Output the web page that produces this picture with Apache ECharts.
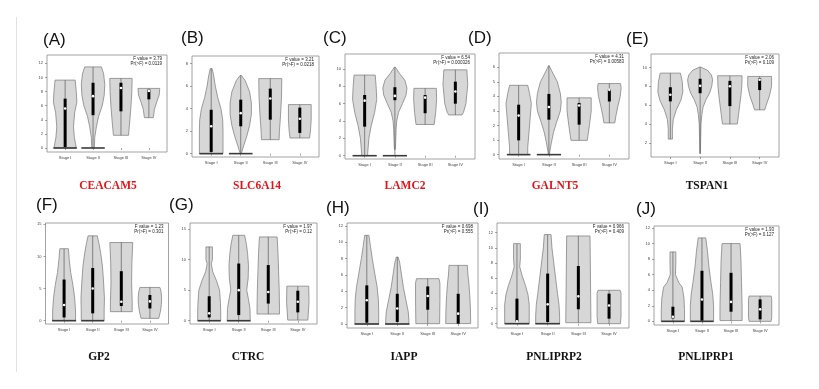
<!DOCTYPE html>
<html>
<head>
<meta charset="utf-8">
<script src="https://cdn.jsdelivr.net/npm/echarts@6/dist/echarts.min.js"></script>
<style>html,body{margin:0;padding:0;background:#fff}#chart{width:819px;height:389px}</style>
</head>
<body>
<div id="chart"></div>
<script>
// ---------------- DATA ----------------
const stages = ['Stage I', 'Stage II', 'Stage III', 'Stage IV'];
const panelLetters = ['(A)', '(B)', '(C)', '(D)', '(E)', '(F)', '(G)', '(H)', '(I)', '(J)'];
const genes = ['CEACAM5', 'SLC6A14', 'LAMC2', 'GALNT5', 'TSPAN1', 'GP2', 'CTRC', 'IAPP', 'PNLIPRP2', 'PNLIPRP1'];
const geneHighlighted = [true, true, true, true, false, false, false, false, false, false];
const fValues = ['3.79', '3.21', '6.54', '4.31', '2.06', '1.23', '1.97', '0.698', '0.966', '1.93'];
const pValues = ['0.0119', '0.0218', '0.000326', '0.00583', '0.109', '0.301', '0.12', '0.555', '0.409', '0.127'];

const yTicksA = [0, 2, 4, 6, 8, 10, 12];
const yTicksB = [0, 2, 4, 6, 8];
const yTicksC = [0, 2, 4, 6, 8, 10];
const yTicksD = [0, 1, 2, 3, 4, 5, 6];
const yTicksE = [2, 4, 6, 8, 10];
const yTicksF = [0, 5, 10, 15];
const yTicksG = [0, 5, 10, 15];
const yTicksH = [0, 2, 4, 6, 8, 10, 12];
const yTicksI = [0, 2, 4, 6, 8, 10, 12];
const yTicksJ = [0, 2, 4, 6, 8, 10, 12];

// violin density profiles per stage: [value, half width]
const violinA = [
  [[9.63,0.36],[8,0.40],[6.5,0.42],[5,0.34],[3,0.30],[1.5,0.33],[0,0.40]],
  [[11.5,0.30],[10.5,0.38],[9,0.42],[7.5,0.40],[6,0.33],[4.5,0.2],[3,0.12],[1.5,0.06],[0.3,0.05],[0,0.05]],
  [[9.87,0.40],[8,0.39],[6,0.36],[4,0.32],[1.8,0.27]],
  [[8.45,0.39],[7.5,0.37],[6.5,0.28],[5.5,0.2],[4.3,0.16]]
];
const violinB = [
  [[7.56,0.03],[7.0,0.08],[6,0.14],[5,0.22],[4,0.33],[3,0.39],[2,0.40],[1,0.40],[0,0.40]],
  [[6.96,0.02],[6.5,0.15],[5.5,0.30],[4.5,0.36],[3.5,0.36],[2.5,0.30],[1.5,0.20],[0.7,0.10],[0.1,0.03],[0,0.02]],
  [[6.67,0.39],[5,0.38],[3.5,0.35],[2,0.31],[1.24,0.30]],
  [[4.36,0.385],[3,0.385],[2,0.36],[1.39,0.33]]
];
const violinC = [
  [[9.3,0.35],[8,0.38],[6.5,0.40],[5,0.33],[3.5,0.22],[2,0.14],[0.3,0.10],[0,0.10]],
  [[10.2,0.02],[9.5,0.15],[8.7,0.33],[7.8,0.40],[7,0.37],[6,0.25],[5,0.12],[4,0.06],[3,0.04],[1,0.02],[0.7,0.01]],
  [[7.77,0.37],[6.5,0.38],[5,0.35],[3.6,0.30]],
  [[9.9,0.38],[8.2,0.41],[6.0,0.35],[5,0.27],[4.7,0.22]]
];
const violinD = [
  [[4.76,0.30],[4.2,0.36],[3.5,0.42],[2.5,0.38],[1.5,0.34],[0.5,0.30],[0,0.30]],
  [[6.11,0.01],[5.6,0.13],[5.0,0.28],[4.2,0.38],[3.6,0.41],[3.0,0.38],[2.2,0.25],[1.5,0.15],[0.8,0.08],[0.2,0.03],[0,0.02]],
  [[3.9,0.40],[3.0,0.40],[2.0,0.34],[0.98,0.27]],
  [[4.88,0.37],[4.6,0.39],[4.0,0.36],[3.3,0.28],[2.7,0.22],[2.18,0.18]]
];
const violinE = [
  [[9.4,0.34],[8.5,0.40],[7.4,0.42],[6.5,0.35],[5.5,0.20],[4.5,0.10],[3.5,0.07],[2.4,0.07]],
  [[10.04,0.02],[9.7,0.25],[9.2,0.38],[8.7,0.42],[8.0,0.39],[7.3,0.32],[6.6,0.20],[5.8,0.10],[5.0,0.06],[4.0,0.03],[2.5,0.02],[0.86,0.01]],
  [[9.12,0.41],[8,0.40],[7,0.37],[6,0.33],[5,0.29],[4,0.25]],
  [[9.05,0.40],[8,0.40],[7,0.33],[6,0.22],[5.5,0.17]]
];
const violinF = [
  [[11.2,0.15],[9.5,0.18],[7.5,0.23],[5.5,0.31],[3.5,0.37],[1.5,0.40],[0,0.40]],
  [[13.2,0.16],[12,0.22],[10.5,0.28],[8.5,0.34],[6,0.38],[3.5,0.41],[1.5,0.40],[0,0.40]],
  [[12.16,0.40],[9,0.37],[6,0.36],[3,0.38],[1.4,0.38]],
  [[5.17,0.35],[4.5,0.39],[3.5,0.41],[2.5,0.40],[1.5,0.37],[0.36,0.31]]
];
const violinG = [
  [[12.07,0.11],[10,0.11],[9.3,0.07],[8,0.12],[6.5,0.25],[5,0.35],[3,0.38],[1.5,0.39],[0,0.39]],
  [[13.97,0.20],[12.5,0.26],[11,0.30],[9,0.33],[7,0.32],[5,0.27],[3.5,0.33],[2,0.38],[0,0.39]],
  [[13.7,0.30],[11,0.33],[8,0.35],[5,0.37],[2,0.38],[1.09,0.38]],
  [[5.65,0.37],[3,0.38],[0.1,0.34]]
];
const violinH = [
  [[10.86,0.07],[9.5,0.12],[8,0.18],[6,0.27],[4.5,0.34],[3,0.38],[1.5,0.39],[0,0.39]],
  [[8.2,0.03],[7.5,0.08],[6,0.14],[4.5,0.20],[3,0.28],[1.5,0.36],[0.5,0.38],[0,0.38]],
  [[5.55,0.37],[5,0.40],[3,0.40],[0.04,0.39]],
  [[7.18,0.30],[6,0.32],[5,0.35],[3.5,0.38],[2,0.40],[0.05,0.41]]
];
const violinI = [
  [[10.55,0.11],[8.5,0.11],[7.5,0.09],[6.3,0.17],[5.0,0.28],[3.8,0.36],[2.5,0.40],[1,0.40],[0,0.40]],
  [[11.74,0.11],[10,0.14],[8,0.20],[6,0.26],[4,0.32],[2.5,0.37],[1,0.39],[0,0.39]],
  [[11.56,0.38],[8,0.39],[4,0.40],[0.13,0.41]],
  [[4.4,0.36],[4.0,0.39],[1,0.39],[0,0.37]]
];
const violinJ = [
  [[8.93,0.10],[7.5,0.10],[6.0,0.09],[5.0,0.20],[4.4,0.32],[3,0.38],[1.5,0.40],[0,0.40]],
  [[10.73,0.13],[9,0.19],[7,0.24],[5,0.31],[3.5,0.37],[2,0.40],[0,0.40]],
  [[10,0.31],[8,0.34],[5,0.36],[2,0.38],[0.1,0.38]],
  [[3.25,0.38],[2.8,0.40],[0.5,0.40],[0,0.38]]
];

// box stats per stage: [q1, median, q3]
const boxA = [[0.14,5.6,7.0],[4.65,7.35,9.25],[5.2,8.5,9.25],[6.9,8.1,8.3]];
const boxB = [[0.15,2.43,3.9],[2.43,3.6,4.8],[3.02,4.9,5.78],[1.84,3.1,4.09]];
const boxC = [[3.35,6.35,7.0],[6.4,6.9,7.9],[4.9,6.7,7.0],[6.0,7.4,8.54]];
const boxD = [[0.98,2.68,3.43],[2.4,3.27,4.17],[2.06,3.37,3.55],[3.65,4.45,4.5]];
const boxE = [[6.4,7.1,7.9],[7.27,8.05,8.8],[5.9,8.0,8.58],[7.6,8.7,8.85]];
const boxF = [[0.5,2.43,6.4],[1.14,5.0,8.2],[2.28,2.95,7.7],[1.9,3.0,4.0]];
const boxG = [[0.54,1.2,4.0],[0.92,5.0,9.35],[2.8,4.7,9.1],[1.36,3.1,4.9]];
const boxH = [[0.16,2.9,4.73],[0.25,1.9,3.7],[1.75,3.43,4.6],[0.04,1.27,3.7]];
const boxI = [[0.22,0.3,3.3],[0.22,2.55,6.6],[1.9,3.6,7.6],[0.66,2.4,3.96]];
const boxJ = [[0.38,0.6,1.88],[0.1,2.8,6.5],[1.24,2.5,6.24],[0.26,1.54,2.82]];

// half width of the pile of zero values at the floor (0 = none)
const floorA = [0.42,0.42,0,0];
const floorB = [0.40,0.40,0,0];
const floorC = [0.40,0.40,0,0];
const floorD = [0.39,0.40,0,0];
const floorE = [0,0,0,0];
const floorF = [0.42,0.40,0,0];
const floorG = [0.39,0.40,0,0];
const floorH = [0.40,0.40,0,0];
const floorI = [0.40,0.40,0,0];
const floorJ = [0.40,0.40,0,0];

// ---------------- LAYOUT ----------------
const violins = [violinA, violinB, violinC, violinD, violinE, violinF, violinG, violinH, violinI, violinJ];
const boxes = [boxA, boxB, boxC, boxD, boxE, boxF, boxG, boxH, boxI, boxJ];
const floors = [floorA, floorB, floorC, floorD, floorE, floorF, floorG, floorH, floorI, floorJ];
const yTicks = [yTicksA, yTicksB, yTicksC, yTicksD, yTicksE, yTicksF, yTicksG, yTicksH, yTicksI, yTicksJ];

const layout = [
  {left: 47,  top: 55,  width: 120, height: 97,  yMin: -0.57, yMax: 13.19},
  {left: 192, top: 56,  width: 127, height: 101, yMin: -0.30, yMax: 8.68},
  {left: 345, top: 54,  width: 130, height: 105, yMin: -0.38, yMax: 11.73},
  {left: 499, top: 53,  width: 130, height: 106, yMin: -0.30, yMax: 6.98},
  {left: 651, top: 54,  width: 128, height: 103, yMin: 0.5,   yMax: 11.43},
  {left: 45.5,top: 223, width: 123, height: 101, yMin: -0.52, yMax: 15.2},
  {left: 190, top: 223, width: 127, height: 101, yMin: -0.54, yMax: 15.98},
  {left: 347, top: 223, width: 131, height: 105, yMin: -0.49, yMax: 12.37},
  {left: 497, top: 223, width: 132, height: 105, yMin: -0.57, yMax: 13.27},
  {left: 654, top: 226, width: 125, height: 99,  yMin: -0.47, yMax: 12.26}
];
const letterPos = [[43,40],[181,38],[323,38],[468,38],[626,39],[36,205],[169,205],[326,208],[473,209],[636,209]];
const genePos = [[108,186],[257,186],[405,186],[555,186],[707,186],[99,357],[248,357],[404,357],[554,357],[706,357]];

const chart = echarts.init(document.getElementById('chart'), null, {renderer: 'canvas'});

const grids = [], xAxes = [], yAxes = [], series = [], graphics = [];
const tickFont = 'Liberation Sans';

layout.forEach((L, p) => {
  grids.push({left: L.left, top: L.top, width: L.width, height: L.height, show: true,
    borderColor: '#8c8c8c', borderWidth: 0.8, backgroundColor: '#fff'});
  xAxes.push({gridIndex: p, type: 'value', min: 0.35, max: 4.65,
    axisLine: {show: false}, splitLine: {show: false},
    axisTick: {show: true, customValues: [1,2,3,4], length: 2, lineStyle: {color: '#666', width: 0.6}},
    axisLabel: {customValues: [1,2,3,4], formatter: v => stages[Math.round(v) - 1], fontSize: 4,
      color: '#444', margin: 4, fontFamily: tickFont}});
  yAxes.push({gridIndex: p, type: 'value', min: L.yMin, max: L.yMax,
    axisLine: {show: false}, splitLine: {show: false},
    axisTick: {show: true, customValues: yTicks[p], length: 2, lineStyle: {color: '#666', width: 0.6}},
    axisLabel: {customValues: yTicks[p], fontSize: 4, color: '#444', margin: 4, fontFamily: tickFont}});
  series.push({
    type: 'custom', xAxisIndex: p, yAxisIndex: p,
    data: stages.map((s, i) => [i + 1]),
    renderItem: (params, api) => {
      const i = params.dataIndex, c = i + 1;
      const prof = violins[p][i];
      const [q1, med, q3] = boxes[p][i];
      const fl = floors[p][i];
      const right = prof.map(([v, w]) => api.coord([c + w, v]));
      const left = prof.slice().reverse().map(([v, w]) => api.coord([c - w, v]));
      const top = prof[0][0];
      const bottom = fl > 0 ? 0 : prof[prof.length - 1][0];
      const pt = api.coord([c, top]), pb = api.coord([c, bottom]);
      const children = [
        {type: 'polygon', shape: {points: right.concat(left)},
          style: {fill: '#d7d7d7', stroke: '#858585', lineWidth: 0.8, lineJoin: 'round'}},
        {type: 'line', shape: {x1: pt[0], y1: pt[1], x2: pb[0], y2: pb[1]},
          style: {stroke: '#5a5a5a', lineWidth: 0.7}}
      ];
      if (fl > 0) {
        const a = api.coord([c - fl, 0]), b = api.coord([c + fl, 0]);
        children.push({type: 'line', shape: {x1: a[0], y1: a[1], x2: b[0], y2: b[1]},
          style: {stroke: '#3a3a3a', lineWidth: 1.6}});
      }
      const b3 = api.coord([c, q3]), b1 = api.coord([c, q1]), bm = api.coord([c, med]);
      children.push({type: 'rect', shape: {x: b3[0] - 1.5, y: b3[1], width: 3, height: b1[1] - b3[1]},
        style: {fill: '#000'}});
      children.push({type: 'circle', shape: {cx: bm[0], cy: bm[1], r: 1.3}, style: {fill: '#fff'}});
      return {type: 'group', children};
    }
  });
  graphics.push({type: 'text', x: L.left + L.width - 5, y: L.top + 3.6,
    style: {text: 'F value = ' + fValues[p], font: '4.5px "Liberation Sans"', fill: '#222',
      align: 'right', verticalAlign: 'middle', textAlign: 'right', textVerticalAlign: 'middle'}});
  graphics.push({type: 'text', x: L.left + L.width - 5, y: L.top + 8.6,
    style: {text: 'Pr(>F) = ' + pValues[p], font: '4.5px "Liberation Sans"', fill: '#222',
      align: 'right', verticalAlign: 'middle', textAlign: 'right', textVerticalAlign: 'middle'}});
  graphics.push({type: 'text', x: letterPos[p][0], y: letterPos[p][1],
    style: {text: panelLetters[p], font: '17px "Liberation Sans"', fill: '#111',
      align: 'left', verticalAlign: 'middle', textAlign: 'left', textVerticalAlign: 'middle'}});
  graphics.push({type: 'text', x: genePos[p][0], y: genePos[p][1],
    style: {text: genes[p], font: 'bold 11.5px "Liberation Serif"', fill: geneHighlighted[p] ? '#e3151b' : '#111',
      align: 'center', verticalAlign: 'middle', textAlign: 'center', textVerticalAlign: 'middle'}});
});

graphics.push({type: 'line', shape: {x1: 16.5, y1: 17, x2: 16.5, y2: 372},
  style: {stroke: '#e2e2e2', lineWidth: 1}});

chart.setOption({
  animation: false,
  backgroundColor: '#fff',
  grid: grids, xAxis: xAxes, yAxis: yAxes, series: series,
  graphic: {elements: graphics}
});
</script>
</body>
</html>
